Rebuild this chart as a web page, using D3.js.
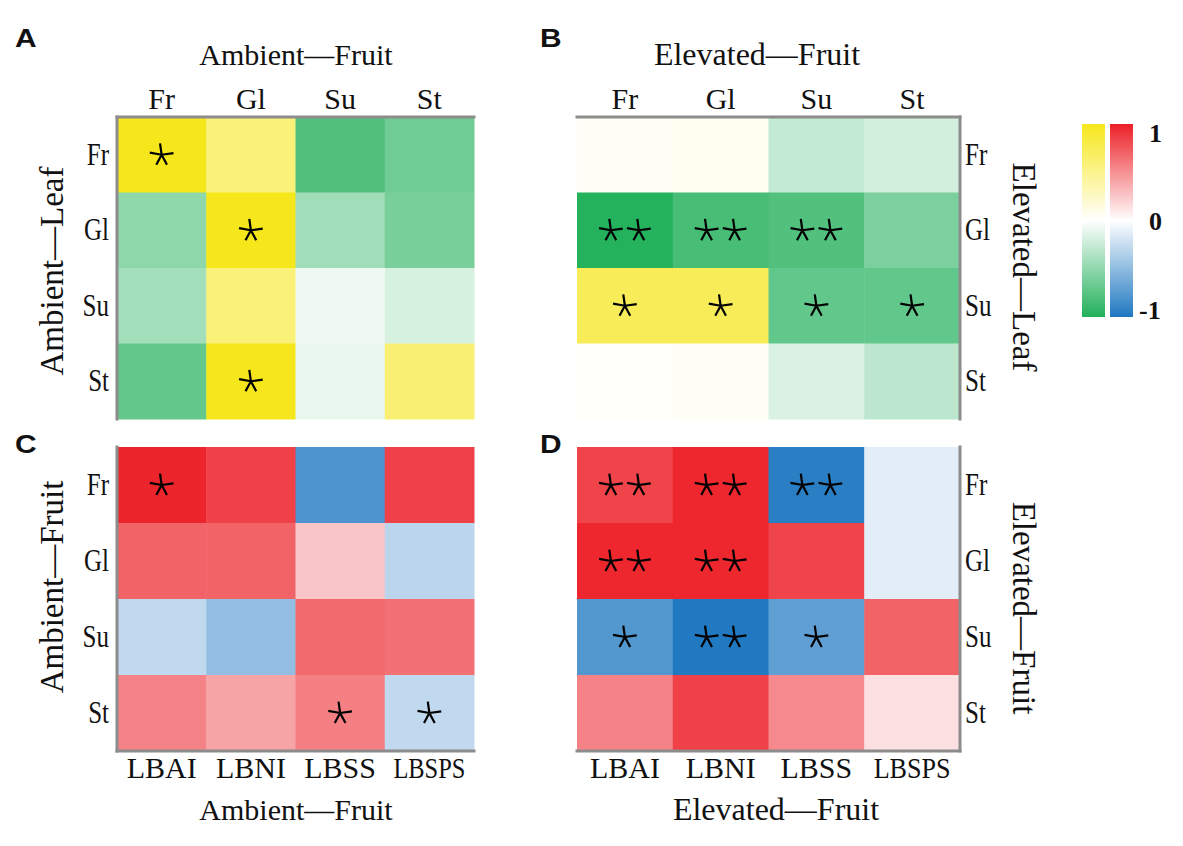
<!DOCTYPE html>
<html>
<head>
<meta charset="utf-8">
<script src="https://cdn.jsdelivr.net/npm/d3@7"></script>
<style>
  body { margin: 0; background: #fff; }
  text { font-family: "Liberation Serif", "Times New Roman", serif; fill: #111; }
</style>
</head>
<body>
<svg id="chart" width="1183" height="846"></svg>
<script>
// categories
var sugars = ["Fr", "Gl", "Su", "St"];
var indices = ["LBAI", "LBNI", "LBSS", "LBSPS"];

// correlation values, rows = Fr, Gl, Su, St
var valuesA = [
    [0.99, 0.59, -0.78, -0.65],
    [-0.51, 0.99, -0.43, -0.61],
    [-0.41, 0.59, -0.07, -0.18],
    [-0.70, 0.99, -0.10, 0.62]
];
var valuesB = [
    [0.04, 0.06, -0.27, -0.20],
    [-0.98, -0.83, -0.78, -0.59],
    [0.73, 0.73, -0.71, -0.71],
    [0.02, 0.05, -0.17, -0.30]
];
var valuesC = [
    [0.98, 0.85, -0.79, 0.85],
    [0.70, 0.70, 0.26, -0.31],
    [-0.28, -0.48, 0.67, 0.64],
    [0.56, 0.41, 0.57, -0.28]
];
var valuesD = [
    [0.84, 0.97, -0.95, -0.13],
    [0.97, 0.97, 0.84, -0.13],
    [-0.77, -0.99, -0.71, 0.70],
    [0.56, 0.85, 0.53, 0.14]
];

// number of significance stars
var starsA = [[1,0,0,0],[0,1,0,0],[0,0,0,0],[0,1,0,0]];
var starsB = [[0,0,0,0],[2,2,2,0],[1,1,1,1],[0,0,0,0]];
var starsC = [[1,0,0,0],[0,0,0,0],[0,0,0,0],[0,0,1,1]];
var starsD = [[2,2,2,0],[2,2,0,0],[1,2,1,0],[0,0,0,0]];

var legendTicks = [1, 0, -1];

var svg = d3.select("#chart");

var greenYellow = d3.scaleLinear().domain([-1, 0, 1]).range(["#21b05a", "#ffffff", "#f6e71b"]);
var blueRed = d3.scaleLinear().domain([-1, 0, 1]).range(["#1f78c1", "#ffffff", "#ec2027"]);

// thin five-armed star (spokes)
function starPath(r) {
    var p = "";
    var angles = [-98, -8, 62, 118, 190];
    angles.forEach(function(deg, k) {
        var a = deg * Math.PI / 180;
        var len = k == 1 || k == 4 ? r : r * 0.95;
        p += "M0,0L" + (Math.cos(a) * len).toFixed(2) + "," + (Math.sin(a) * len).toFixed(2);
    });
    return p;
}

function panel(opt) {
    var x = d3.scaleBand().domain(opt.cols).range([opt.x0, opt.x1]);
    var y = d3.scaleBand().domain(sugars).range([opt.y0, opt.y1]);
    var g = svg.append("g");

    var cells = [];
    opt.values.forEach(function(row, i) {
        row.forEach(function(v, j) {
            cells.push({ r: sugars[i], c: opt.cols[j], v: v, s: opt.stars[i][j] });
        });
    });

    g.selectAll("rect.cell")
        .data(cells)
        .enter().append("rect")
        .attr("class", "cell")
        .attr("x", function(d) { return x(d.c); })
        .attr("y", function(d) { return y(d.r); })
        .attr("width", x.bandwidth() + 0.5)
        .attr("height", y.bandwidth() + 0.5)
        .attr("fill", function(d) { return opt.color(d.v); });

    // stars
    var starData = [];
    cells.forEach(function(d) {
        for (var k = 0; k < d.s; k++) {
            var off = d.s == 2 ? (k == 0 ? -14 : 14) : 0;
            starData.push({ cx: x(d.c) + x.bandwidth() / 2 + off, cy: y(d.r) + y.bandwidth() / 2 });
        }
    });
    g.selectAll("path.star")
        .data(starData)
        .enter().append("path")
        .attr("class", "star")
        .attr("d", starPath(12))
        .attr("transform", function(d) { return "translate(" + d.cx + "," + d.cy + ")"; })
        .attr("fill", "none")
        .attr("stroke", "#000")
        .attr("stroke-width", 2.2)
        .attr("stroke-linecap", "butt");

    // gray frame edges
    var edges = {
        left: [opt.x0, opt.y0, opt.x0, opt.y1],
        right: [opt.x1, opt.y0, opt.x1, opt.y1],
        top: [opt.x0, opt.y0, opt.x1, opt.y0],
        bottom: [opt.x0, opt.y1, opt.x1, opt.y1]
    };
    opt.edges.forEach(function(e) {
        var c = edges[e];
        g.append("line")
            .attr("x1", c[0]).attr("y1", c[1]).attr("x2", c[2]).attr("y2", c[3])
            .attr("stroke", "#8c8c8c").attr("stroke-width", 3)
            .attr("stroke-linecap", "square");
    });

    // column labels
    g.selectAll("text.col")
        .data(opt.cols)
        .enter().append("text")
        .attr("class", "col")
        .attr("x", function(d) { return x(d) + x.bandwidth() / 2; })
        .attr("y", opt.colY)
        .attr("text-anchor", "middle")
        .style("font-size", "30px")
        .each(function(d) {
            if (d == "LBSPS") {
                d3.select(this).attr("textLength", opt.rowSide == "left" ? 72 : 77)
                    .attr("lengthAdjust", "spacingAndGlyphs");
            }
        })
        .text(function(d) { return d; });

    // row labels (slightly tall, as in the original)
    g.selectAll("text.row")
        .data(sugars)
        .enter().append("text")
        .attr("class", "row")
        .attr("transform", function(d) {
            var tx = opt.rowSide == "left" ? opt.x0 - 8 : opt.x1 + 5;
            return "translate(" + tx + "," + (y(d) + y.bandwidth() / 2 + 10) + ") scale(1,1.25)";
        })
        .attr("text-anchor", opt.rowSide == "left" ? "end" : "start")
        .style("font-size", "25px")
        .text(function(d) { return d; });

    // column axis title
    g.append("text")
        .attr("x", opt.titleX)
        .attr("y", opt.titleY)
        .attr("text-anchor", "middle")
        .style("font-size", opt.titleSize + "px")
        .text(opt.colTitle);

    // row axis title
    g.append("text")
        .attr("transform", "translate(" + opt.sideX + "," + opt.sideY + ") rotate(" + (opt.rowSide == "left" ? -90 : 90) + ")")
        .attr("text-anchor", "middle")
        .attr("dy", "0.35em")
        .style("font-size", "33px")
        .text(opt.rowTitle);

    // panel letter
    svg.append("text")
        .attr("transform", "translate(" + opt.letterX + "," + opt.letterY + ") scale(1.15,1)")
        .style("font-family", "'Liberation Sans', Arial, sans-serif")
        .style("font-weight", "bold")
        .style("font-size", "26px")
        .text(opt.letter);
}

panel({ letter: "A", letterX: 15, letterY: 47, x0: 117, x1: 474, y0: 117, y1: 419,
    cols: sugars, values: valuesA, stars: starsA, color: greenYellow,
    edges: ["left", "top"], rowSide: "left", colY: 109,
    colTitle: "Ambient\u2014Fruit", titleX: 296, titleY: 65, titleSize: 30,
    rowTitle: "Ambient\u2014Leaf", sideX: 51, sideY: 271 });

panel({ letter: "B", letterX: 540, letterY: 47, x0: 577, x1: 960, y0: 117, y1: 419,
    cols: sugars, values: valuesB, stars: starsB, color: greenYellow,
    edges: ["top", "right"], rowSide: "right", colY: 109,
    colTitle: "Elevated\u2014Fruit", titleX: 757, titleY: 65, titleSize: 32,
    rowTitle: "Elevated\u2014Leaf", sideX: 1025, sideY: 267 });

panel({ letter: "C", letterX: 15, letterY: 453, x0: 117, x1: 474, y0: 447, y1: 751,
    cols: indices, values: valuesC, stars: starsC, color: blueRed,
    edges: ["left", "bottom"], rowSide: "left", colY: 778,
    colTitle: "Ambient\u2014Fruit", titleX: 296, titleY: 820, titleSize: 30,
    rowTitle: "Ambient\u2014Fruit", sideX: 51, sideY: 587 });

panel({ letter: "D", letterX: 540, letterY: 453, x0: 577, x1: 960, y0: 447, y1: 751,
    cols: indices, values: valuesD, stars: starsD, color: blueRed,
    edges: ["right", "bottom"], rowSide: "right", colY: 778,
    colTitle: "Elevated\u2014Fruit", titleX: 776, titleY: 820, titleSize: 32,
    rowTitle: "Elevated\u2014Fruit", sideX: 1025, sideY: 608 });

// legend
var legY = d3.scaleLinear().domain([-1, 1]).range([317, 124]);
var defs = svg.append("defs");
[["gradGY", greenYellow, 1082], ["gradBR", blueRed, 1110]].forEach(function(l) {
    var grad = defs.append("linearGradient")
        .attr("id", l[0])
        .attr("x1", 0).attr("y1", 1).attr("x2", 0).attr("y2", 0);
    d3.range(-1, 1.01, 0.25).forEach(function(t) {
        grad.append("stop")
            .attr("offset", ((t + 1) / 2 * 100) + "%")
            .attr("stop-color", l[1](t));
    });
    svg.append("rect")
        .attr("x", l[2])
        .attr("y", legY(1))
        .attr("width", 23)
        .attr("height", legY(-1) - legY(1))
        .attr("fill", "url(#" + l[0] + ")");
});

svg.selectAll("text.legtick")
    .data(legendTicks)
    .enter().append("text")
    .attr("class", "legtick")
    .attr("x", function(d) { return d < 0 ? 1139 : 1149; })
    .attr("y", function(d) { return legY(d) + (d == 1 ? 18 : d == 0 ? 9 : 2); })
    .style("font-size", "26px")
    .style("font-weight", "bold")
    .text(function(d) { return d; });
</script>
</body>
</html>
